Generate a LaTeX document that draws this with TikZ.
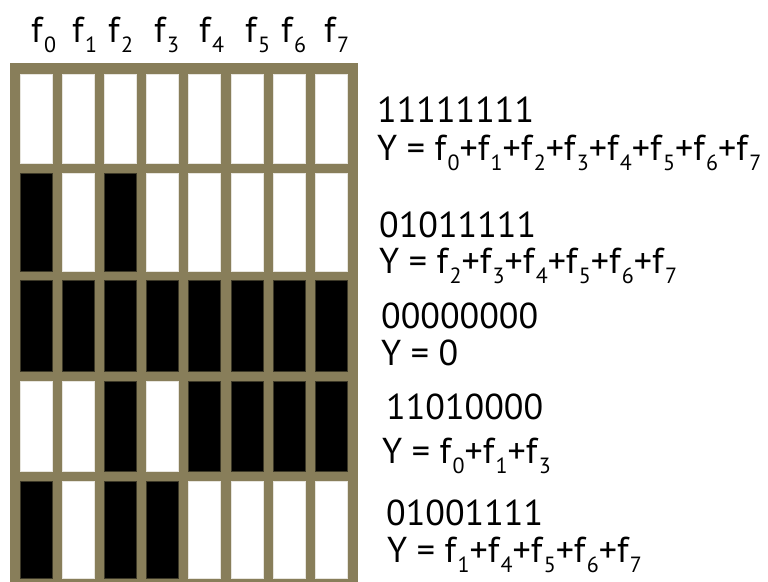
\documentclass[tikz,border=0pt]{standalone}
\usepackage{fontspec}
\setmainfont{PT Sans}
\usetikzlibrary{positioning}
\definecolor{frameolive}{RGB}{136,126,90}
\newcommand{\fsub}[1]{f\kern0.04em\raisebox{-0.28em}{\fontsize{22}{22}\selectfont #1}}

\begin{document}
\begin{tikzpicture}[
    x=1pt, y=-1pt,
    font=\fontsize{36}{40}\selectfont,
    txt/.style={anchor=base west, inner sep=0pt, text height=0.7em, text depth=0pt},
    cellon/.style={fill=white, draw=white!80!frameolive, line width=0.8pt},
    celloff/.style={fill=black, draw=black!55!frameolive, line width=0.8pt}
]
\useasboundingbox (0,0) rectangle (768,581);
% frame
\fill[frameolive] (9.5,63) rectangle (357.5,590);
% cells, 1 = white
\foreach \top/\bot/\bits in {74/163/{1,1,1,1,1,1,1,1}, 173/271/{0,1,0,1,1,1,1,1},
    280/371/{0,0,0,0,0,0,0,0}, 381/471/{1,1,0,1,0,0,0,0}, 481/578/{0,1,0,0,1,1,1,1}} {
  \foreach \b [count=\i from 0] in \bits {
    \ifnum\b=1
      \filldraw[cellon] (20+42.2*\i,\top) rectangle (52+42.2*\i,\bot);
    \else
      \filldraw[celloff] (20+42.2*\i,\top) rectangle (52+42.2*\i,\bot);
    \fi
  }
}
% column labels
\foreach \x [count=\i from 0] in {31,72,108,154,199,245,281,324}
  \node[txt] (lab\i) at (\x,42) {\fsub{\i}};
% right-hand texts
\node[txt] (bits1) at (377,122) {11111111};
\node[txt] (eq1) at (377,160) {Y = \fsub{0}+\fsub{1}+\fsub{2}+\fsub{3}+\fsub{4}+\fsub{5}+\fsub{6}+\fsub{7}};
\node[txt] (bits2) at (379,237) {01011111};
\node[txt] (eq2) at (379,273) {Y = \fsub{2}+\fsub{3}+\fsub{4}+\fsub{5}+\fsub{6}+\fsub{7}};
\node[txt] (bits3) at (381,328) {00000000};
\node[txt] (eq3) at (381,365) {Y = 0};
\node[txt] (bits4) at (386,419) {11010000};
\node[txt] (eq4) at (382,463) {Y = \fsub{0}+\fsub{1}+\fsub{3}};
\node[txt] (bits5) at (386,525) {01001111};
\node[txt] (eq5) at (387,562) {Y = \fsub{1}+\fsub{4}+\fsub{5}+\fsub{6}+\fsub{7}};
\end{tikzpicture}
\end{document}
